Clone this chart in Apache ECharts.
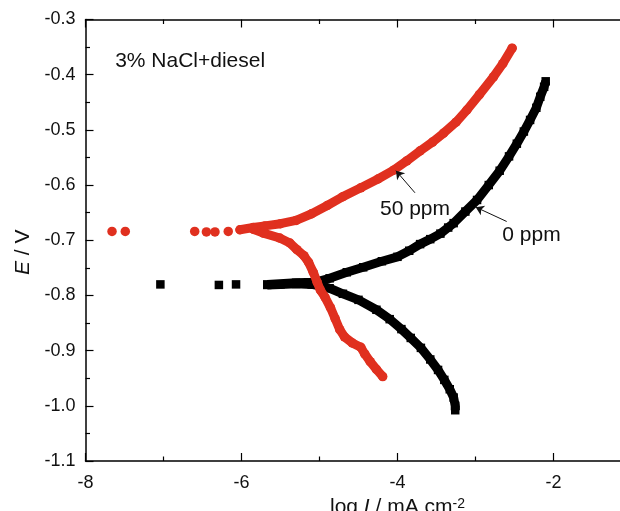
<!DOCTYPE html>
<html>
<head>
<meta charset="utf-8">
<script src="https://cdn.jsdelivr.net/npm/echarts@6/dist/echarts.min.js"></script>
<style>html,body{margin:0;padding:0;background:#fff}#c{width:620px;height:511px}</style>
</head>
<body>
<div id="c"></div>
<script>
// ---- data (log I / mA cm^-2, E / V) ----
var black_sparse = [[-7.04,-0.780],[-6.29,-0.781],[-6.07,-0.780]];
var black_cathodic = [[-5.67,-0.781],[-5.5,-0.780],[-5.3,-0.779],[-5.1,-0.780],[-4.95,-0.784],[-4.87,-0.787],[-4.7,-0.797],[-4.5,-0.808],[-4.27,-0.826],[-4.1,-0.843],[-3.95,-0.861],[-3.83,-0.877],[-3.7,-0.895],[-3.58,-0.916],[-3.48,-0.935],[-3.40,-0.953],[-3.33,-0.970],[-3.28,-0.985],[-3.26,-1.000],[-3.26,-1.008]];
var black_anodic = [[-5.67,-0.780],[-5.3,-0.777],[-5.05,-0.776],[-4.87,-0.769],[-4.65,-0.758],[-4.44,-0.749],[-4.2,-0.738],[-4.0,-0.730],[-3.85,-0.719],[-3.71,-0.707],[-3.58,-0.698],[-3.45,-0.688],[-3.35,-0.677],[-3.28,-0.669],[-3.13,-0.648],[-2.98,-0.627],[-2.83,-0.600],[-2.69,-0.574],[-2.57,-0.548],[-2.47,-0.525],[-2.38,-0.503],[-2.30,-0.482],[-2.22,-0.460],[-2.17,-0.440],[-2.12,-0.422],[-2.10,-0.412]];
var red_sparse = [[-7.66,-0.684],[-7.49,-0.684],[-6.60,-0.684],[-6.45,-0.685],[-6.34,-0.685],[-6.17,-0.684]];
var red_anodic = [[-6.02,-0.681],[-5.85,-0.677],[-5.7,-0.674],[-5.5,-0.670],[-5.3,-0.664],[-5.1,-0.652],[-4.9,-0.637],[-4.7,-0.621],[-4.47,-0.605],[-4.25,-0.589],[-4.05,-0.573],[-3.88,-0.556],[-3.71,-0.538],[-3.55,-0.522],[-3.41,-0.506],[-3.25,-0.486],[-3.11,-0.464],[-2.95,-0.436],[-2.77,-0.404],[-2.65,-0.380],[-2.53,-0.352]];
var red_cathodic = [[-5.85,-0.680],[-5.72,-0.687],[-5.51,-0.696],[-5.38,-0.705],[-5.29,-0.717],[-5.2,-0.728],[-5.14,-0.740],[-5.08,-0.758],[-5.03,-0.776],[-4.99,-0.790],[-4.93,-0.803],[-4.86,-0.822],[-4.80,-0.842],[-4.74,-0.862],[-4.68,-0.875],[-4.58,-0.886],[-4.47,-0.894],[-4.42,-0.906],[-4.35,-0.920],[-4.27,-0.934],[-4.19,-0.947]];
var x_range = [-8, 0];
var y_range = [-1.1, -0.3];
var annotations = [
  {text: '3% NaCl+diesel', at: [-7.62, -0.375]},
  {text: '50 ppm', at: [-3.776, -0.643]},
  {text: '0 ppm', at: [-2.282, -0.690]}
];
var arrows = [
  {from: [-3.776, -0.614], to: [-4.02, -0.574]},
  {from: [-2.60, -0.666], to: [-2.997, -0.640]}
];

var FONT = 'Liberation Sans, Arial, Helvetica, sans-serif';
var TXT = '#111';
var BLACK = '#000000';
var RED = '#e0301f';

function xAxisBase(pos, showLabel) {
  return {
    type: 'value', position: pos, min: x_range[0], max: x_range[1], interval: 2,
    axisLine: {show: true, onZero: false, lineStyle: {color: '#000', width: 1.5}},
    axisTick: {show: true, inside: true, length: 8, lineStyle: {color: '#000', width: 1.2}},
    minorTick: {show: true, splitNumber: 2, length: 4.5, lineStyle: {color: '#000', width: 1.2}},
    splitLine: {show: false},
    axisLabel: {show: showLabel, fontSize: 18, color: TXT, fontFamily: FONT, margin: 13},
  };
}

var xBottom = xAxisBase('bottom', true);
xBottom.name = '{a|log }{i|I}{a| / mA cm}{s|-2}';
xBottom.nameLocation = 'middle';
xBottom.nameGap = 35;
xBottom.nameTextStyle = {
  color: TXT, fontFamily: FONT, fontSize: 21,
  rich: {
    a: {fontSize: 21, fontFamily: FONT, color: TXT, lineHeight: 21, verticalAlign: 'bottom'},
    i: {fontSize: 21, fontFamily: FONT, color: TXT, fontStyle: 'italic', lineHeight: 21, verticalAlign: 'bottom'},
    s: {fontSize: 14, fontFamily: FONT, color: TXT, lineHeight: 14, verticalAlign: 'top', padding: [0, 0, 17, 0]}
  }
};
var xTop = xAxisBase('top', false);

var labelPoints = annotations.map(function (a, i) {
  return {
    coord: a.at, value: a.text, symbolSize: 0,
    label: {show: true, formatter: a.text, position: i === 0 ? 'right' : 'inside', distance: 0,
      color: TXT, fontSize: 21, fontFamily: FONT}
  };
});
var arrowLines = arrows.map(function (a) {
  return [{coord: a.from}, {coord: a.to}];
});

var option = {
  animation: false,
  backgroundColor: '#fff',
  grid: {left: 85.5, top: 19.5, height: 441.5, width: 624, containLabel: false, outerBoundsMode: 'none'},
  xAxis: [xBottom, xTop],
  yAxis: [{
    type: 'value', min: y_range[0], max: y_range[1], interval: 0.1,
    axisLine: {show: true, onZero: false, lineStyle: {color: '#000', width: 1.5}},
    axisTick: {show: true, inside: true, length: 8, lineStyle: {color: '#000', width: 1.2}},
    minorTick: {show: true, splitNumber: 2, length: 4.5, lineStyle: {color: '#000', width: 1.2}},
    splitLine: {show: false},
    axisLabel: {fontSize: 18, color: TXT, fontFamily: FONT, margin: 10,
      formatter: function (v) { return v.toFixed(1); }},
    name: '{i|E}{a| / V}',
    nameLocation: 'middle', nameGap: 50,
    nameTextStyle: {color: TXT, fontFamily: FONT, fontSize: 21, padding: [0, 24, 0, 0],
      rich: {
        i: {fontSize: 21, fontFamily: FONT, color: TXT, fontStyle: 'italic'},
        a: {fontSize: 21, fontFamily: FONT, color: TXT}
      }}
  }],
  series: [
    {name: '0 ppm sparse', type: 'scatter', data: black_sparse, symbol: 'rect', symbolSize: 8.5,
      itemStyle: {color: BLACK, opacity: 1}, z: 2},
    {name: '0 ppm cathodic', type: 'line', data: black_cathodic, symbol: 'rect', symbolSize: 8.5, showSymbol: true,
      lineStyle: {color: BLACK, width: 9}, itemStyle: {color: BLACK, opacity: 1}, z: 2},
    {name: '0 ppm anodic', type: 'line', data: black_anodic, symbol: 'rect', symbolSize: 8.5, showSymbol: true,
      lineStyle: {color: BLACK, width: 9}, itemStyle: {color: BLACK, opacity: 1}, z: 2},
    {name: '50 ppm sparse', type: 'scatter', data: red_sparse, symbol: 'circle', symbolSize: 9.5,
      itemStyle: {color: RED, opacity: 1}, z: 3},
    {name: '50 ppm cathodic', type: 'line', data: red_cathodic, symbol: 'circle', symbolSize: 9.5, showSymbol: true,
      lineStyle: {color: RED, width: 9, cap: 'round', join: 'round'}, itemStyle: {color: RED, opacity: 1}, z: 3},
    {name: '50 ppm anodic', type: 'line', data: red_anodic, symbol: 'circle', symbolSize: 9.5, showSymbol: true,
      lineStyle: {color: RED, width: 9, cap: 'round', join: 'round'}, itemStyle: {color: RED, opacity: 1}, z: 3},
    {name: 'annotations', type: 'scatter', data: [], z: 10, silent: true,
      markPoint: {silent: true, symbol: 'circle', symbolSize: 0, itemStyle: {color: 'rgba(0,0,0,0)'}, data: labelPoints},
      markLine: {silent: true, symbol: ['none', 'arrow'], symbolSize: 8,
        lineStyle: {color: '#111', width: 1, type: 'solid', opacity: 1}, itemStyle: {color: '#111'}, label: {show: false},
        emphasis: {disabled: true}, data: arrowLines}
    }
  ]
};
var chart = echarts.init(document.getElementById('c'), null, {renderer: 'canvas'});
chart.setOption(option);
</script>
</body>
</html>
